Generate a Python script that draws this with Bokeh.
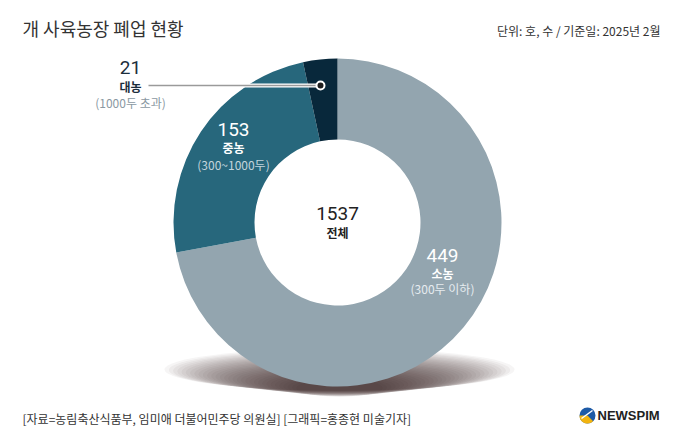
import numpy as np
from bokeh.plotting import figure
from bokeh.models import Range1d
from bokeh.core.properties import value
from bokeh.embed import file_html
from bokeh.resources import INLINE

# ---- data ----
categories = ["소농", "중농", "대농"]
sub_labels = ["(300두 이하)", "(300~1000두)", "(1000두 초과)"]
counts = [449, 153, 21]
total_label = "1537"
total_name = "전체"
colors = ["#93a5af", "#27677c", "#08283b"]

title = "개 사육농장 폐업 현황"
unit_note = "단위: 호, 수 / 기준일: 2025년 2월"
source_note = "[자료=농림축산식품부, 임미애 더불어민주당 의원실] [그래픽=홍종현 미술기자]"

W, H = 680, 442
KR = value("Noto Sans CJK KR")
NUM = value("Roboto")


def Y(y):
    return H - y


p = figure(width=W, height=H, x_range=Range1d(0, W), y_range=Range1d(0, H),
           output_backend="svg", toolbar_location=None, min_border=0)
p.axis.visible = False
p.grid.visible = False
p.outline_line_color = None
p.background_fill_color = "white"
p.border_fill_color = "white"

cx, cy = 337, 222
r_out, r_in = 164, 83

# soft shadow under donut
n = 32
for i in range(n):
    p.ellipse(x=cx + 2, y=Y(369 + i * 0.6), width=350 - i * 8.5, height=42 - i * 0.8,
              fill_color="#2a1c1a", fill_alpha=0.045, line_color=None)

# donut
vals = np.array(counts, dtype=float)
frac = vals / vals.sum()
cum_end = np.cumsum(frac)
cum_start = cum_end - frac
start = np.pi / 2 - cum_end * 2 * np.pi
end = np.pi / 2 - cum_start * 2 * np.pi
p.annular_wedge(x=cx, y=Y(cy), inner_radius=r_in, outer_radius=r_out,
                start_angle=list(start), end_angle=list(end),
                fill_color=colors, line_color=None)

# title / notes
p.text(x=[22], y=[Y(27)], text=[title], text_font=KR, text_font_size="18px",
       text_color="#333333", text_align="left", text_baseline="middle")
p.text(x=[660], y=[Y(30)], text=[unit_note], text_font=KR, text_font_size="12px",
       text_color="#333333", text_align="right", text_baseline="middle")
p.text(x=[22], y=[Y(418)], text=[source_note], text_font=KR, text_font_size="12px",
       text_color="#333333", text_align="left", text_baseline="middle")

# center label
p.text(x=[cx], y=[Y(213)], text=[total_label], text_font=NUM, text_font_size="19px",
       text_color="#222222", text_align="center", text_baseline="middle")
p.text(x=[cx], y=[Y(232)], text=[total_name], text_font=KR, text_font_size="12px",
       text_font_style="bold", text_color="#222222", text_align="center",
       text_baseline="middle")

# small farms label (inside)
p.text(x=[442], y=[Y(255)], text=[str(counts[0])], text_font=NUM, text_font_size="19px",
       text_color="white", text_align="center", text_baseline="middle")
p.text(x=[442], y=[Y(273)], text=[categories[0]], text_font=KR, text_font_size="12px",
       text_font_style="bold", text_color="white", text_align="center", text_baseline="middle")
p.text(x=[442], y=[Y(288)], text=[sub_labels[0]], text_font=KR, text_font_size="12px",
       text_color="#e6ecef", text_align="center", text_baseline="middle")

# medium farms label (inside)
p.text(x=[233], y=[Y(129)], text=[str(counts[1])], text_font=NUM, text_font_size="19px",
       text_color="white", text_align="center", text_baseline="middle")
p.text(x=[233], y=[Y(147)], text=[categories[1]], text_font=KR, text_font_size="12px",
       text_font_style="bold", text_color="white", text_align="center", text_baseline="middle")
p.text(x=[233], y=[Y(164)], text=[sub_labels[1]], text_font=KR, text_font_size="12px",
       text_color="#c3d5dc", text_align="center", text_baseline="middle")

# large farms label (outside with leader)
p.line(x=[148, 320], y=[Y(85), Y(85)], line_color="white", line_width=4)
p.line(x=[148, 320], y=[Y(85), Y(85)], line_color="#9a9a9a", line_width=1.5)
p.scatter(x=[320], y=[Y(85)], size=8, marker="circle", fill_color="#1e1e1e",
          line_color="white", line_width=2)
p.text(x=[130], y=[Y(67)], text=[str(counts[2])], text_font=NUM, text_font_size="19px",
       text_color="#1c2e3c", text_align="center", text_baseline="middle")
p.text(x=[130], y=[Y(86)], text=[categories[2]], text_font=KR, text_font_size="12px",
       text_font_style="bold", text_color="#1c2e3c", text_align="center", text_baseline="middle")
p.text(x=[130], y=[Y(102)], text=[sub_labels[2]], text_font=KR, text_font_size="12px",
       text_color="#8a98a2", text_align="center", text_baseline="middle")

# NEWSPIM logo
p.wedge(x=[587], y=[Y(415)], radius=8, start_angle=[0], end_angle=[2 * np.pi],
        fill_color="#1d5aa6", line_color=None)
p.wedge(x=[587], y=[Y(415)], radius=8, start_angle=[np.pi * 1.0], end_angle=[np.pi * 1.75],
        fill_color="#f2b40f", line_color=None)
p.line(x=[581, 592], y=[Y(418), Y(410)], line_color="white", line_width=1.5)
p.text(x=[597], y=[Y(415)], text=["NEWSPIM"], text_font=value("Liberation Sans"),
       text_font_size="13px", text_font_style="bold", text_color="#222222",
       text_align="left", text_baseline="middle")

open("out.html", "w").write(file_html(p, INLINE))
